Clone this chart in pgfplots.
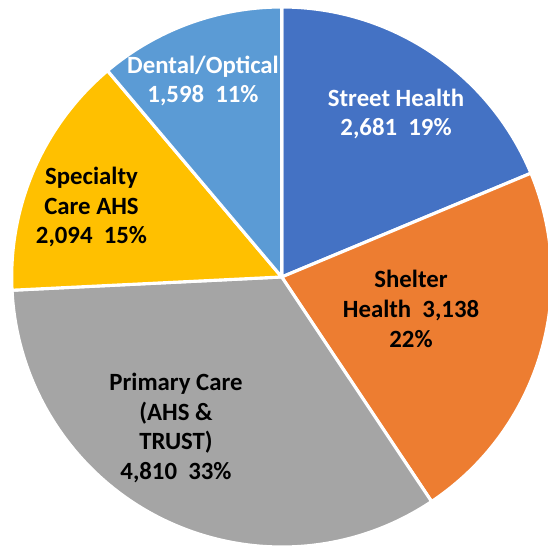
\documentclass[border=0pt]{standalone}
\usepackage{fontspec}
\setmainfont{Carlito}
\usepackage{pgfplots}
\pgfplotsset{compat=1.18}
\definecolor{cStreet}{RGB}{68,114,196}
\definecolor{cShelter}{RGB}{237,125,49}
\definecolor{cPrimary}{RGB}{165,165,165}
\definecolor{cSpecialty}{RGB}{255,192,0}
\definecolor{cDental}{RGB}{91,155,213}

\begin{document}
\begin{tikzpicture}
  \begin{axis}[
    scale only axis,
    width=8cm, height=8cm,
    xmin=0, xmax=548, ymin=0, ymax=548,
    hide axis,
  ]
    % pie centre and radius in axis units, radius also in pt for the arc
    \def\cx{281.7}\def\cy{271}
    \pgfmathsetmacro\R{270/548*227.622}
    \def\total{14321}
    \xdef\cum{0}
    \foreach \v/\col in {2681/cStreet, 3138/cShelter, 4810/cPrimary, 2094/cSpecialty, 1598/cDental} {
      \pgfmathsetmacro\a{90-360*(\cum/\total)}
      \pgfmathsetmacro\b{90-360*((\cum+\v)/\total)}
      \pgfmathsetmacro\ex{\cx+270*cos(\a)}
      \pgfmathsetmacro\ey{\cy+270*sin(\a)}
      \edef\tmp{\noexpand\fill[\col, draw=white, line width=1.3pt, line join=round]
        (axis cs:\cx,\cy) -- (axis cs:\ex,\ey)
        arc[start angle=\a, end angle=\b, radius=\R pt] -- cycle;}
      \tmp
      \pgfmathsetmacro\newcum{\cum+\v}
      \xdef\cum{\newcum}
    }
    \tikzset{lbl/.style={align=center, font=\fontsize{10.3}{12.3}\selectfont\bfseries}}
    \node[lbl, text=white] at (axis cs:396,434) {Street Health\\2,681\ \ 19\%};
    \node[lbl] at (axis cs:411,239) {Shelter\\Health\ \ 3,138\\22\%};
    \node[lbl] at (axis cs:176,120) {Primary Care\\(AHS \&\\TRUST)\\4,810\ \ 33\%};
    \node[lbl] at (axis cs:91.5,341) {Specialty\\Care AHS\\2,094\ \ 15\%};
    \node[lbl, text=white] at (axis cs:203,467) {Dental/Optical\\1,598\ \ 11\%};
  \end{axis}
  \pgfresetboundingbox
  \path (current axis.south west) rectangle (current axis.north east);
\end{tikzpicture}
\end{document}
